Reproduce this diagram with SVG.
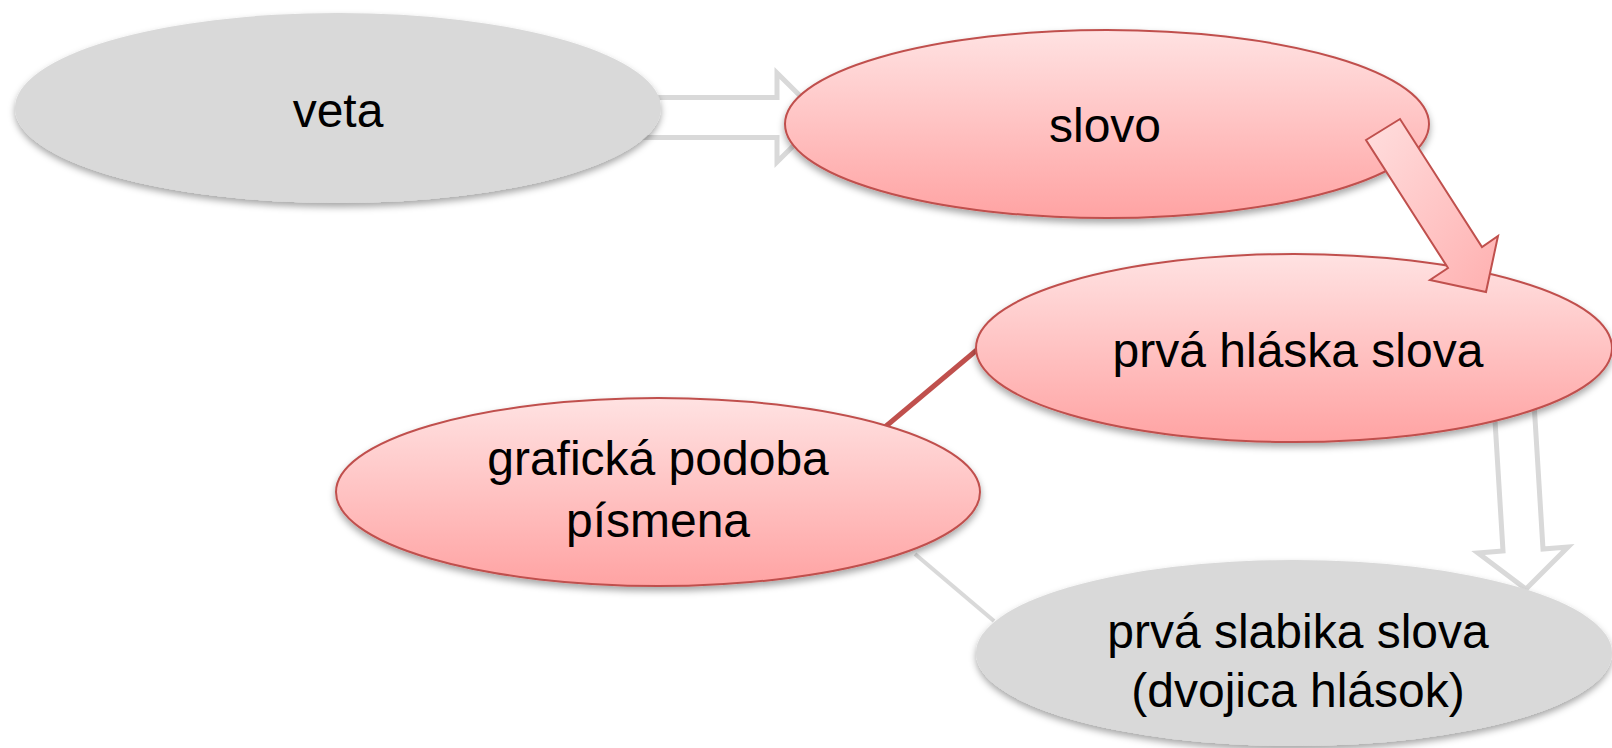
<svg xmlns="http://www.w3.org/2000/svg" width="1612" height="748" viewBox="0 0 1612 748">
<defs>
<linearGradient id="pink" x1="0" y1="0" x2="0" y2="1">
<stop offset="0" stop-color="#ffe2e2"/>
<stop offset="1" stop-color="#ffa3a3"/>
</linearGradient>
<linearGradient id="pinkArrow" x1="0" y1="0" x2="1" y2="1">
<stop offset="0" stop-color="#ffdede"/>
<stop offset="1" stop-color="#ffb0b0"/>
</linearGradient>
<filter id="shadow" x="-10%" y="-20%" width="120%" height="150%">
<feDropShadow dx="0" dy="4" stdDeviation="3.5" flood-color="#000" flood-opacity="0.35"/>
</filter>
</defs>
<style>
.gray{fill:#d9d9d9;filter:url(#shadow)}
.pinkn{fill:url(#pink);stroke:#c0504d;stroke-width:2;filter:url(#shadow)}
.hollow{fill:#ffffff;stroke:#d9d9d9;stroke-width:5;stroke-linejoin:miter}
.lbl{font-family:"Liberation Sans",Arial,sans-serif;font-size:48px;fill:#000;text-anchor:middle}
</style>
<rect width="1612" height="748" fill="#ffffff"/>
<g id="connectors">
<polygon class="hollow" points="560,97.5 777,97.5 777,73 822,117.5 777,162 777,137.5 560,137.5"/>
<polygon class="hollow" points="1489.5,331 1503,551 1478,553 1526,589 1568,547 1543,549 1529.5,329"/>
<line x1="885" y1="427" x2="978" y2="349" stroke="#c0504d" stroke-width="5"/>
<line x1="915" y1="554" x2="994" y2="621" stroke="#d9d9d9" stroke-width="4"/>
</g>
<g id="node-veta">
<ellipse class="gray" cx="338" cy="108" rx="323" ry="95"/>
<text class="lbl" x="338" y="127">veta</text>
</g>
<g id="node-slovo">
<ellipse class="pinkn" cx="1107" cy="124" rx="322" ry="94"/>
<text class="lbl" x="1105" y="142">slovo</text>
</g>
<g id="node-prva-hlaska">
<ellipse class="pinkn" cx="1294" cy="348" rx="318" ry="94"/>
<text class="lbl" x="1298" y="367">prvá hláska slova</text>
</g>
<g id="node-graficka">
<ellipse class="pinkn" cx="658" cy="492" rx="322" ry="94"/>
<text class="lbl" x="658" y="475">grafická podoba</text>
<text class="lbl" x="658" y="537">písmena</text>
</g>
<g id="node-prva-slabika">
<ellipse class="gray" cx="1294" cy="653" rx="318" ry="93"/>
<text class="lbl" x="1298" y="648">prvá slabika slova</text>
<text class="lbl" x="1298" y="707">(dvojica hlások)</text>
</g>
<g id="connector-front">
<polygon points="1366,140 1400,119 1482,247 1498,236 1486,292 1430,280 1448,268" fill="url(#pinkArrow)" stroke="#c0504d" stroke-width="2" stroke-linejoin="miter"/>
</g>
</svg>
